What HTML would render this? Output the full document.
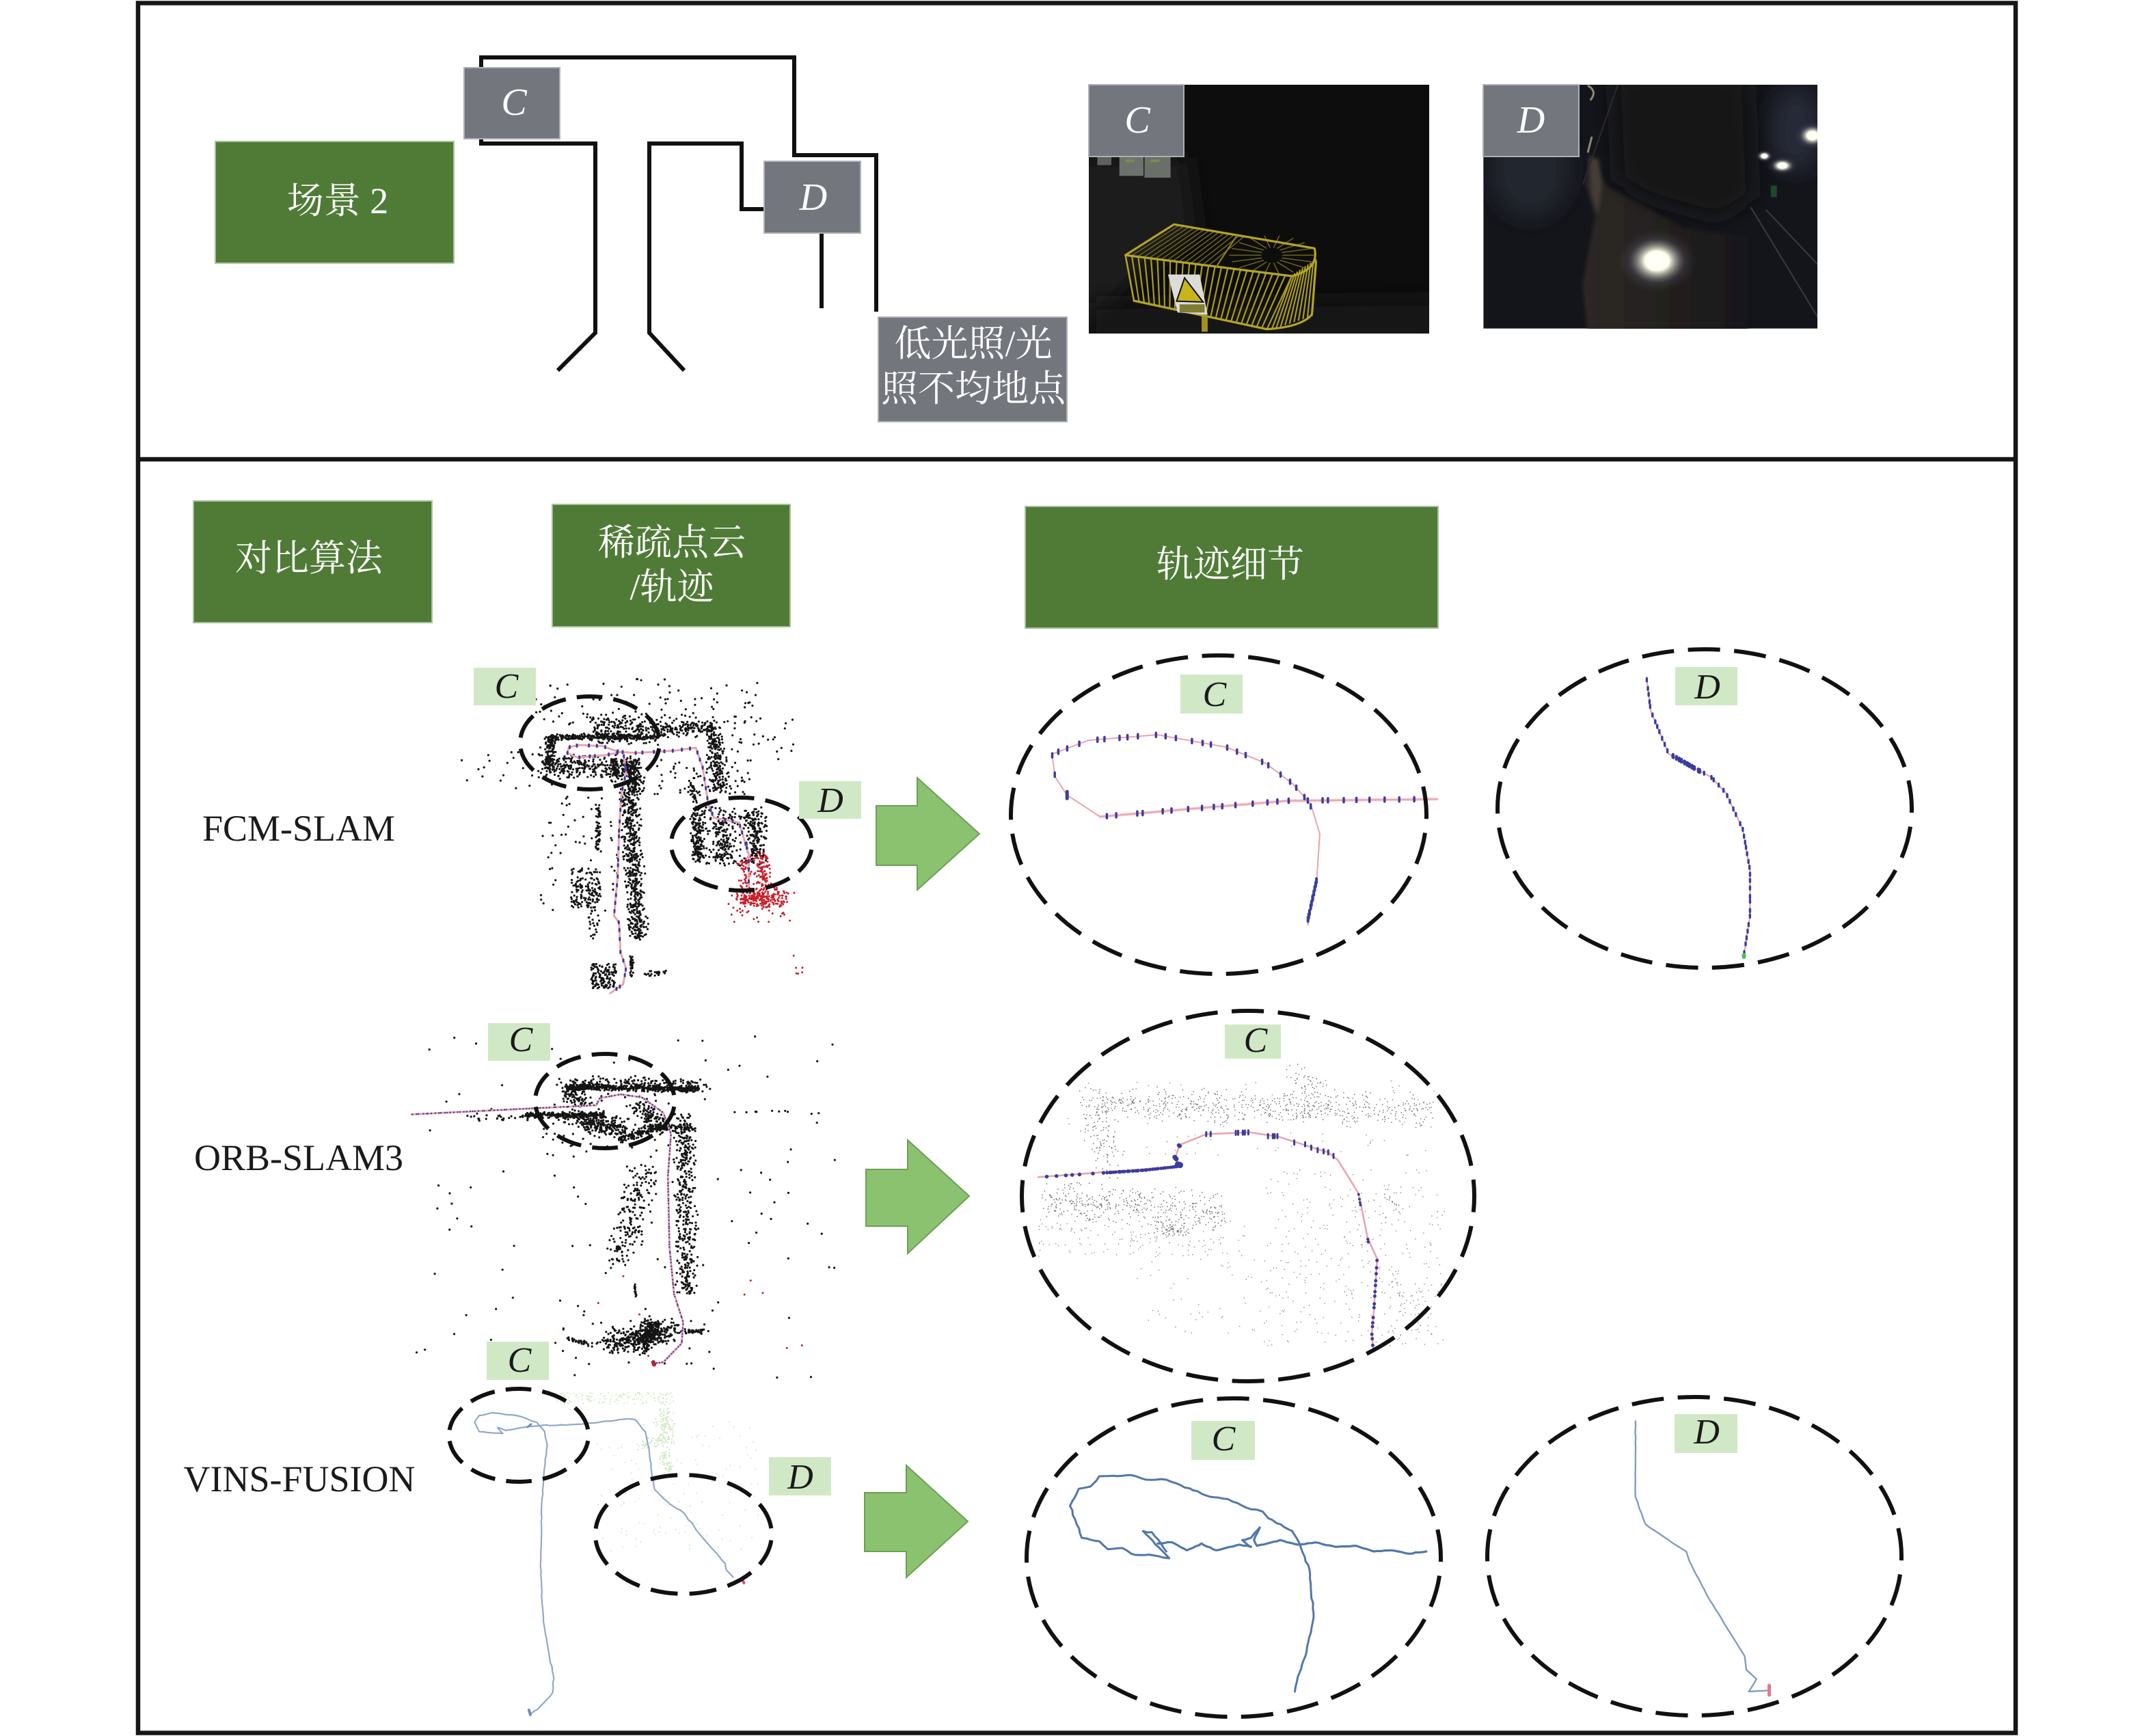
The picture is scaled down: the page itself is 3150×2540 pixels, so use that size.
<!DOCTYPE html>
<html lang="zh">
<head>
<meta charset="utf-8">
<title>场景 2</title>
<style>
html,body{margin:0;padding:0;background:#fff}
svg{display:block}
.z{font-family:"Liberation Serif","Noto Serif CJK SC",serif;font-size:54px;fill:#fff;text-anchor:middle}
.lat{font-family:"Liberation Serif",serif;font-size:54px;fill:#1a1a1a;text-anchor:middle}
.w{font-family:"Liberation Serif",serif;font-style:italic;font-size:56px;fill:#fff;text-anchor:middle}
.b{font-family:"Liberation Serif",serif;font-style:italic;font-size:52px;fill:#1a1a1a;text-anchor:middle}
.gb{fill:#4f7b36;stroke:#a9c29c;stroke-width:2}
.gy{fill:#73767d;stroke:#aeb0b5;stroke-width:2}
.lg{fill:#d1e8c6}
.ar{fill:#8bc270;stroke:#6d9f55;stroke-width:2}
.el{fill:none;stroke:#111;stroke-width:6;stroke-dasharray:46 20}
.wall{fill:none;stroke:#111;stroke-width:6;stroke-linejoin:miter}
.ns{vector-effect:non-scaling-stroke}
</style>
</head>
<body>
<svg id="s" xmlns="http://www.w3.org/2000/svg" width="3150" height="2540" viewBox="0 0 3150 2540">
<defs>
<clipPath id="cpc"><rect x="1593" y="124" width="498" height="364"/></clipPath>
<clipPath id="cpd"><rect x="2170" y="124" width="489" height="357"/></clipPath>
<filter id="bl" x="-50%" y="-50%" width="200%" height="200%"><feGaussianBlur stdDeviation="22 45"/></filter>
<filter id="bs" x="-30%" y="-30%" width="160%" height="160%"><feGaussianBlur stdDeviation="4 9"/></filter>
<linearGradient id="rock" x1="0" x2="1" y1="0" y2="0"><stop offset="0" stop-color="#2e2926"/><stop offset=".55" stop-color="#221f1e"/><stop offset="1" stop-color="#17171a"/></linearGradient>
<radialGradient id="glow"><stop offset="0" stop-color="#fff"/><stop offset=".3" stop-color="#fffff0"/><stop offset=".42" stop-color="#c8cbb8" stop-opacity=".8"/><stop offset=".7" stop-color="#667" stop-opacity=".25"/><stop offset="1" stop-color="#445" stop-opacity="0"/></radialGradient>
</defs>
<rect width="3150" height="2540" fill="#fff"/>

<rect x="202" y="4.5" width="2747" height="2531" fill="none" stroke="#161616" stroke-width="6.5"/>
<line x1="202" y1="672" x2="2949" y2="672" stroke="#161616" stroke-width="6.5"/>

<path class="wall" d="M704 100V84H1162V227H1282V456"/>
<path class="wall" d="M704 200V210H871V487L816 542"/>
<path class="wall" d="M1001 542L950 487V210H1085V306H1120"/>
<path class="wall" d="M1202 340V451"/>
<rect class="gb" x="315" y="207" width="349" height="178"/>
<text class="z" x="494" y="312">场景 2</text>
<rect class="gy" x="679" y="99" width="140" height="104"/>
<text class="w" x="752" y="168">C</text>
<rect class="gy" x="1118" y="236" width="141" height="105"/>
<text class="w" x="1190" y="307">D</text>
<rect class="gy" x="1285" y="464" width="276" height="153"/>
<text class="z" x="1424" y="521">低光照/光</text>
<text class="z" x="1424" y="587">照不均地点</text>

<!-- photo C -->
<g clip-path="url(#cpc)">
<rect x="1593" y="124" width="498" height="364" fill="#0d0d0d"/>
<g transform="translate(1560,100) scale(.7337,.3333)">
<polygon points="20,390 240,390 260,720 150,900 20,1200" fill="#1d1d1b" filter="url(#bl)"/>
<polygon points="45,1030 740,1010 740,1200 45,1200" fill="#141413" filter="url(#bl)"/>
<rect x="62" y="390" width="28" height="35" fill="#5d625f"/>
<rect x="106" y="390" width="48" height="82" fill="#6d726d"/>
<rect x="156" y="390" width="52" height="90" fill="#6a6f6a"/>
<rect x="118" y="400" width="18" height="12" fill="#83894a"/>
<rect x="168" y="400" width="18" height="12" fill="#83894a"/>
</g>
<g id="cage"></g>
<g transform="translate(1560,100) scale(.7337,.3333)">
<polygon points="203,905 266,905 282,1082 222,1072" fill="#dcdcd8"/>
<polygon points="236,920 220,1022 273,1026" fill="#c9b41a" stroke="#111" stroke-width="2" class="ns"/>
<rect x="226" y="1036" width="50" height="36" fill="#7f7c34"/>
<rect x="270" y="1088" width="12" height="68" fill="#a3931e"/>
</g>
</g>

<!-- photo D -->
<g clip-path="url(#cpd)">
<g transform="translate(1560,100) scale(.7337,.3333)">
<rect x="832" y="72" width="668" height="1070" fill="#14151b"/>
<ellipse cx="925" cy="440" rx="80" ry="220" fill="#23252f" filter="url(#bl)"/>
<ellipse cx="1455" cy="270" rx="50" ry="190" fill="#262a38" filter="url(#bl)"/>
<polygon points="1045,400 1080,520 1150,600 1230,700 1360,740 1360,1160 1040,1160 1030,950 1055,650 1035,500" fill="url(#rock)" filter="url(#bs)"/>
<polygon points="1090,30 1360,30 1370,560 1300,660 1160,570 1100,490" fill="#121214" filter="url(#bl)"/>
<polygon points="1042,385 1062,400 1068,520 1060,640 1048,560" fill="#453e36" filter="url(#bs)"/>
<path d="M1040 76Q1060 100 1045 140M1048 300L1040 370" stroke="#8f8876" stroke-width="3" class="ns" fill="none"/>
<path d="M1100 72L1030 510" stroke="#2a2a2a" stroke-width="2" class="ns" fill="none"/>
<path d="M1365 610L1498 1090M1395 620L1498 860" stroke="#3a3a3c" stroke-width="2" class="ns" fill="none"/>
<rect x="1405" y="515" width="12" height="50" fill="#1a4a26"/>
<ellipse cx="1178" cy="845" rx="80" ry="140" fill="url(#glow)"/>
<ellipse cx="1488" cy="295" rx="36" ry="62" fill="url(#glow)"/>
<ellipse cx="1392" cy="385" rx="18" ry="28" fill="url(#glow)"/>
<ellipse cx="1428" cy="427" rx="30" ry="40" fill="url(#glow)"/>
</g>
</g>
<rect class="gy" x="1593" y="124" width="139" height="105"/>
<text class="w" x="1664" y="194">C</text>
<rect class="gy" x="2170" y="124" width="140" height="105"/>
<text class="w" x="2240" y="194">D</text>

<rect class="gb" x="283" y="733" width="349" height="178"/>
<text class="z" x="452" y="835">对比算法</text>
<rect class="gb" x="808" y="738" width="348" height="179"/>
<text class="z" x="983" y="812">稀疏点云</text>
<text class="z" x="983" y="877">/轨迹</text>
<rect class="gb" x="1500" y="741" width="604" height="178"/>
<text class="z" x="1800" y="844">轨迹细节</text>

<text class="lat" x="437" y="1230">FCM-SLAM</text>
<text class="lat" x="437" y="1712">ORB-SLAM3</text>
<text class="lat" x="438" y="2182">VINS-FUSION</text>

<g id="d"></g>

<polygon class="ar" points="1282,1179 1342,1179 1342,1138 1433,1220 1342,1302 1342,1266 1282,1266"/>
<polygon class="ar" points="1267,1711 1328,1711 1328,1668 1418,1750 1328,1834 1328,1794 1267,1794"/>
<polygon class="ar" points="1265,2184 1326,2184 1326,2144 1416,2226 1326,2308 1326,2270 1265,2270"/>

<ellipse class="el" cx="863" cy="1087" rx="102" ry="68" pathLength="660" stroke-dashoffset="56"/>
<ellipse class="el" cx="1085" cy="1235" rx="103" ry="68" pathLength="660" stroke-dashoffset="56"/>
<ellipse class="el" cx="1783" cy="1192" rx="304" ry="233" pathLength="1650" stroke-dashoffset="40"/>
<ellipse class="el" cx="2494" cy="1183" rx="303" ry="233" pathLength="1650" stroke-dashoffset="40"/>
<ellipse class="el" cx="885" cy="1611" rx="102" ry="69" pathLength="660" stroke-dashoffset="56"/>
<ellipse class="el" cx="1826" cy="1750" rx="331" ry="271" pathLength="1848" stroke-dashoffset="23"/>
<ellipse class="el" cx="759" cy="2100" rx="102" ry="68" pathLength="660" stroke-dashoffset="56"/>
<ellipse class="el" cx="1000" cy="2245" rx="129" ry="87" pathLength="792" stroke-dashoffset="56"/>
<ellipse class="el" cx="1805" cy="2279" rx="303" ry="233" pathLength="1650" stroke-dashoffset="40"/>
<ellipse class="el" cx="2479" cy="2277" rx="303" ry="233" pathLength="1650" stroke-dashoffset="40"/>

<rect class="lg" x="693" y="977" width="91" height="55"/><text class="b" x="741" y="1021">C</text>
<rect class="lg" x="1169" y="1143" width="91" height="55"/><text class="b" x="1215" y="1188">D</text>
<rect class="lg" x="1727" y="987" width="91" height="57"/><text class="b" x="1777" y="1033">C</text>
<rect class="lg" x="2451" y="976" width="91" height="56"/><text class="b" x="2498" y="1022">D</text>
<rect class="lg" x="714" y="1497" width="91" height="55"/><text class="b" x="762" y="1538">C</text>
<rect class="lg" x="1792" y="1499" width="82" height="50"/><text class="b" x="1837" y="1539">C</text>
<rect class="lg" x="712" y="1963" width="91" height="56"/><text class="b" x="760" y="2007">C</text>
<rect class="lg" x="1125" y="2132" width="91" height="56"/><text class="b" x="1171" y="2178">D</text>
<rect class="lg" x="1743" y="2079" width="93" height="57"/><text class="b" x="1790" y="2122">C</text>
<rect class="lg" x="2450" y="2069" width="92" height="57"/><text class="b" x="2497" y="2112">D</text>
</svg>

<script>
(function(){
var NS='http://www.w3.org/2000/svg',root=document.getElementById('d'),seed=48271;
function R(){seed=(seed*16807)%2147483647;return seed/2147483647;}
function N(){return R()+R()-1;}
function Z(sx,sy,ox,oy){return function(x,y){return [ox+x/sx,oy+y/sy];};}
function P(d,col,w,op,par){var p=document.createElementNS(NS,'path');p.setAttribute('d',d);p.setAttribute('fill','none');p.setAttribute('stroke',col);p.setAttribute('stroke-width',w);p.setAttribute('stroke-linecap','round');p.setAttribute('stroke-linejoin','round');if(op)p.setAttribute('opacity',op);(par||root).appendChild(p);}
function segs(T,l,col,w,op){var d='';l.forEach(function(c){for(var i=0;i<c[4];i++){var t=R(),q=T(c[0]+(c[2]-c[0])*t,c[1]+(c[3]-c[1])*t);d+='M'+(q[0]+N()*c[5]*2).toFixed(1)+' '+(q[1]+N()*c[6]*2).toFixed(1)+'h0';}});P(d,col,w,op);}
function rects(T,l,col,w,op){var d='';l.forEach(function(c){for(var i=0;i<c[4];i++){var q=T(c[0]+(c[2]-c[0])*R(),c[1]+(c[3]-c[1])*R());d+='M'+q[0].toFixed(1)+' '+q[1].toFixed(1)+'h0';}});P(d,col,w,op);}
function line(T,pts,col,w,op){var d='';pts.forEach(function(p,i){var q=T(p[0],p[1]);d+=(i?'L':'M')+q[0].toFixed(1)+' '+q[1].toFixed(1);});P(d,col,w,op);}
function wavy(T,pts,col,w,step,amp){var pp=pts.map(function(p){return T(p[0],p[1]);}),d='M'+pp[0][0].toFixed(1)+' '+pp[0][1].toFixed(1);for(var i=1;i<pp.length;i++){var l=Math.hypot(pp[i][0]-pp[i-1][0],pp[i][1]-pp[i-1][1]),n=Math.max(1,Math.round(l/step));for(var k=1;k<=n;k++){var t=k/n,j=k==n?0:amp;d+='L'+(pp[i-1][0]+(pp[i][0]-pp[i-1][0])*t+N()*j).toFixed(1)+' '+(pp[i-1][1]+(pp[i][1]-pp[i-1][1])*t+N()*j).toFixed(1);}}P(d,col,w);}
function marks(T,pts,n,col,w,v){var L=[],tot=0,i,tail=v?'v'+v:'h0',dy=v?v/2:0;var pp=pts.map(function(p){return T(p[0],p[1]);});for(i=1;i<pp.length;i++){var l=Math.hypot(pp[i][0]-pp[i-1][0],pp[i][1]-pp[i-1][1]);L.push(l);tot+=l;}var d='';for(var k=0;k<n;k++){var s=tot*(k+.15+R()*.7)/n;for(i=0;i<L.length;i++){if(s<=L[i]){var t=s/L[i];d+='M'+(pp[i][0]+(pp[i+1][0]-pp[i][0])*t).toFixed(1)+' '+(pp[i][1]+(pp[i+1][1]-pp[i][1])*t-dy).toFixed(1)+tail;break;}s-=L[i];}}P(d,col,w);}

var Z2=Z(1.363,3,1560,100),Z3=Z(2.45,3,620,950),Z4=Z(1.136,3,1460,940),Z5=Z(2.24,2.904,600,1480),Z6=Z(2.178,2.703,1480,1470),Z7=Z(2.613,2.958,640,2000),Z8=Z(1.17,3,1480,2040);
var K='#141414',RED='#c8202c',PK='#eda3ad',BL='#3a3d9e';

/* FCM-SLAM cloud */
segs(Z3,[[460,385,840,385,280,1,2.5],[600,350,840,350,190,10,13],[840,355,1040,340,140,4,7],[1040,340,1060,620,210,8,4],[455,385,450,520,120,5,3],[420,510,760,530,280,6,10],[680,480,690,560,60,3,4],[740,490,760,620,180,8,5],[735,620,770,1270,520,8,3],[625,690,625,880,55,2,3],[980,720,980,930,130,6,3],[1070,720,1070,930,90,8,4],[1180,720,1190,900,110,6,4],[960,590,975,680,30,3,3],[745,1340,745,1430,35,1.5,2],[790,1425,870,1420,22,2,3]],K,3.2);
rects(Z3,[[970,690,1230,950,230],[400,130,1200,330,95],[100,430,460,610,26],[420,640,700,1150,55],[820,480,1180,640,60],[1080,300,1340,520,28],[530,960,635,1135,140],[590,1140,630,1270,22],[600,1380,690,1490,130]],K,3.2);
segs(Z3,[[1130,1090,1280,1090,240,12,9],[1150,920,1160,1060,55,6,4],[1205,900,1220,1040,100,7,5]],RED,3);
rects(Z3,[[1100,1100,1360,1200,26],[1290,1300,1360,1430,6]],RED,3);
var t3=[[668,1510],[715,1470],[725,1400],[705,1330],[700,1200],[682,1170],[695,1000],[700,800],[708,640],[725,540],[715,450],[650,465],[550,475],[515,455],[520,430],[560,420],[640,425],[700,450],[760,455],[900,445],[975,432],[1000,520],[1020,680],[1040,740],[1130,760],[1165,900],[1165,1030],[1158,1070]];
line(Z3,t3,PK,3);marks(Z3,t3,65,BL,3,3);

/* FCM detail C */
var t4=[[515,1240],[530,1040],[535,840],[520,710],[490,620],[445,530],[380,460],[265,405],[150,430],[90,490],[95,590],[115,670],[170,765],[300,735],[480,695],[730,688]];
line(Z4,[[170,765],[300,735],[480,695],[730,688]],'#f5d3d8',4.5);line(Z4,t4,PK,2);
marks(Z4,[[515,1220],[530,1040]],11,BL,4,6);
marks(Z4,[[520,760],[520,710],[490,620],[445,530],[380,460],[265,405],[150,430],[90,490],[95,590]],26,BL,3.5,6);
marks(Z4,[[170,765],[300,735],[480,695],[700,688]],24,BL,3.5,6);
line(Z4,[[115,685],[115,655]],BL,5);
/* FCM detail D */
var t4d=[[1078,152],[1085,300],[1115,490],[1185,590],[1210,660],[1238,820],[1250,1000],[1250,1200],[1240,1370]];
line(Z4,t4d,PK,2.2);marks(Z4,t4d,46,BL,3.4,4);marks(Z4,[[1120,495],[1170,570]],11,BL,4.5,4);
line(Z4,[[1240,1372],[1240,1380]],'#4cc34c',6);

/* ORB-SLAM3 cloud */
segs(Z5,[[510,320,940,330,460,1.5,2.5],[510,300,950,315,150,10,6],[510,340,570,390,80,8,7],[370,440,640,440,240,1,2.5],[540,455,700,505,250,14,8],[750,400,830,490,110,11,9],[680,550,820,490,90,3,3],[780,495,920,495,80,7,3],[900,450,910,1200,400,9,5],[770,660,680,1080,190,14,8],[650,1410,860,1350,340,12,10],[760,1420,800,1330,170,8,9],[510,1390,580,1410,30,2,2],[880,1360,970,1360,36,4,2],[735,1160,740,1200,15,1,3],[210,450,380,450,28,10,3],[1100,428,1250,420,8,3,1]],K,3.2);
rects(Z5,[[0,100,1400,1560,105],[450,280,900,620,80],[480,1260,1050,1500,26]],K,3.2);
rects(Z5,[[500,1060,1340,1480,9]],RED,3);
var t5=[[5,437],[610,398],[622,368],[690,352],[760,365],[830,430],[855,520],[845,700],[850,1000],[865,1200],[895,1320],[890,1410],[830,1490],[800,1495]];
line(Z5,t5,PK,3);marks(Z5,t5,170,BL,2.4);
line(Z5,[[797,1490],[800,1500]],'#b02040',6);

/* ORB detail */
segs(Z6,[[220,390,1340,420,640,3,14],[900,290,1000,400,60,12,18],[250,430,320,620,90,12,22],[90,770,680,820,420,5,16],[470,880,550,900,70,12,7],[1200,750,1240,820,15,5,5]],'#555',1.7,.85);
rects(Z6,[[80,850,750,1000,140],[800,650,1380,1350,320],[400,1000,1000,1300,70],[1200,1050,1340,1350,50],[150,300,1350,600,80]],'#666',1.6,.8);
var t6=[[85,682],[530,640],[522,605],[535,555],[620,512],[760,505],[850,522],[1010,585],[1040,615],[1105,745],[1115,800],[1135,925],[1165,1005],[1160,1100],[1155,1200],[1148,1300],[1152,1360]];
line(Z6,t6,PK,2.6);
marks(Z6,[[90,682],[280,666],[420,655]],11,BL,5.5);
marks(Z6,[[300,665],[420,655],[530,640]],32,BL,5);
line(Z6,[[530,632],[537,634]],BL,9);line(Z6,[[520,603],[525,610]],BL,7);line(Z6,[[533,556],[536,559]],BL,6);
marks(Z6,[[615,512],[640,512]],2,BL,3,6);marks(Z6,[[710,507],[760,505]],5,BL,3,6);marks(Z6,[[815,520],[855,520]],4,BL,3,6);marks(Z6,[[895,545],[925,545],[965,572],[1012,585],[1040,612]],7,BL,3,6);
marks(Z6,[[1105,745],[1113,800]],4,BL,4);marks(Z6,[[1135,925],[1138,945]],2,BL,4.5);
marks(Z6,[[1165,1005],[1160,1100],[1155,1200],[1148,1300],[1152,1360]],15,BL,5);

/* VINS cloud */
rects(Z7,[[450,110,900,160,130],[600,230,1230,800,130]],'#d6ecca',2.2);
segs(Z7,[[870,170,870,330,120,8,12],[780,340,880,310,55,6,5],[860,380,890,450,50,4,6]],'#cde8bf',2.2);
var t7a=[[355,1503],[385,1480],[440,1410],[445,1350],[425,1230],[405,1100],[395,900],[398,600],[405,500],[412,400],[420,340],[410,280],[380,240],[300,210],[210,198],[160,210],[142,240],[160,280],[250,288],[230,262],[260,275],[350,258],[400,253],[550,248],[720,225],[755,228],[795,280],[810,370],[820,470],[830,530],[890,595],[940,630],[1000,720],[1100,850],[1105,880],[1130,910]];
wavy(Z7,t7a,'#90a9c9',2.2,6,.9);
line(Z7,[[350,1485],[355,1505]],'#6f8fb8',4);line(Z7,[[345,260],[358,248]],'#6f8fb8',3);
line(Z7,[[1165,920],[1172,935]],'#e0506a',4);

/* VINS detail C */
var t8=[[485,1305],[490,1240],[505,1130],[517,980],[510,770],[490,640],[480,600],[440,545],[430,515],[410,505],[370,460],[340,450],[290,400],[265,375],[230,375],[205,355],[150,360],[135,405],[115,415],[100,490],[120,630],[150,645],[165,680],[190,675],[205,700],[250,710],[270,720],[225,600],[240,605],[265,690]];
wavy(Z8,t8,'#5277ab',3,7,1.3);
wavy(Z8,[[250,655],[275,650],[300,685],[325,655],[350,685],[390,660],[410,670],[395,640],[410,630],[425,585],[415,640],[420,665],[460,640],[490,660],[520,650],[555,670],[590,665],[620,690],[650,685],[680,700],[710,690]],'#5277ab',3.2,5,.9);
/* VINS detail D */
wavy(Z8,[[1068,118],[1068,450],[1085,570],[1130,650],[1155,690],[1160,730],[1190,880],[1255,1150],[1258,1210],[1275,1250],[1262,1305],[1295,1300]],'#7f9cc4',2.4,8,.6);
line(Z8,[[1297,1278],[1297,1320]],'#e8788c',5);

/* cage in photo C */
var c=document.getElementById('cage'),Y='#a89a22',t,a,b,i;
function L(x1,y1,x2,y2,col,w){a=Z2(x1,y1);b=Z2(x2,y2);P('M'+a[0]+' '+a[1]+'L'+b[0]+' '+b[1],col,w,null,c);}
for(i=0;i<=26;i++){t=i/26;L(118+t*332,820+t*90,135+t*265,1020+t*125,Y,2.2);}
for(i=0;i<=9;i++){t=i/9;L(450+t*48,910-t*70,410+t*80,1145-t*60,Y,2.2);}
for(i=0;i<=14;i++){t=i/14*.5;L(215+t*280,685+t*105,118+t*332,820+t*90,'#6e651a',1.5);}
for(i=0;i<18;i++){t=i/18*Math.PI*2;L(410+22*Math.cos(t),820+35*Math.sin(t),410+84*Math.cos(t),820+85*Math.sin(t),'#6e651a',1.5);}
function PL(d,col,w){P(d,col,w,null,c);}
function Q(x,y){var q=Z2(x,y);return q[0].toFixed(1)+' '+q[1].toFixed(1);}
PL('M'+Q(118,820)+'L'+Q(215,685)+'L'+Q(495,790)+'Q'+Q(505,880)+' '+Q(450,912)+'L'+Q(118,820),'#b3a526',3.2);
PL('M'+Q(340,735)+'L'+Q(300,868),'#8a7e1c',2.2);
PL('M'+Q(135,1020)+'L'+Q(400,1145)+'Q'+Q(470,1135)+' '+Q(490,1080)+'L'+Q(498,850),'#b3a526',3.2);
PL('M'+Q(118,820)+'L'+Q(135,1020),'#b3a526',2.4);
})();
</script>
</body>
</html>
